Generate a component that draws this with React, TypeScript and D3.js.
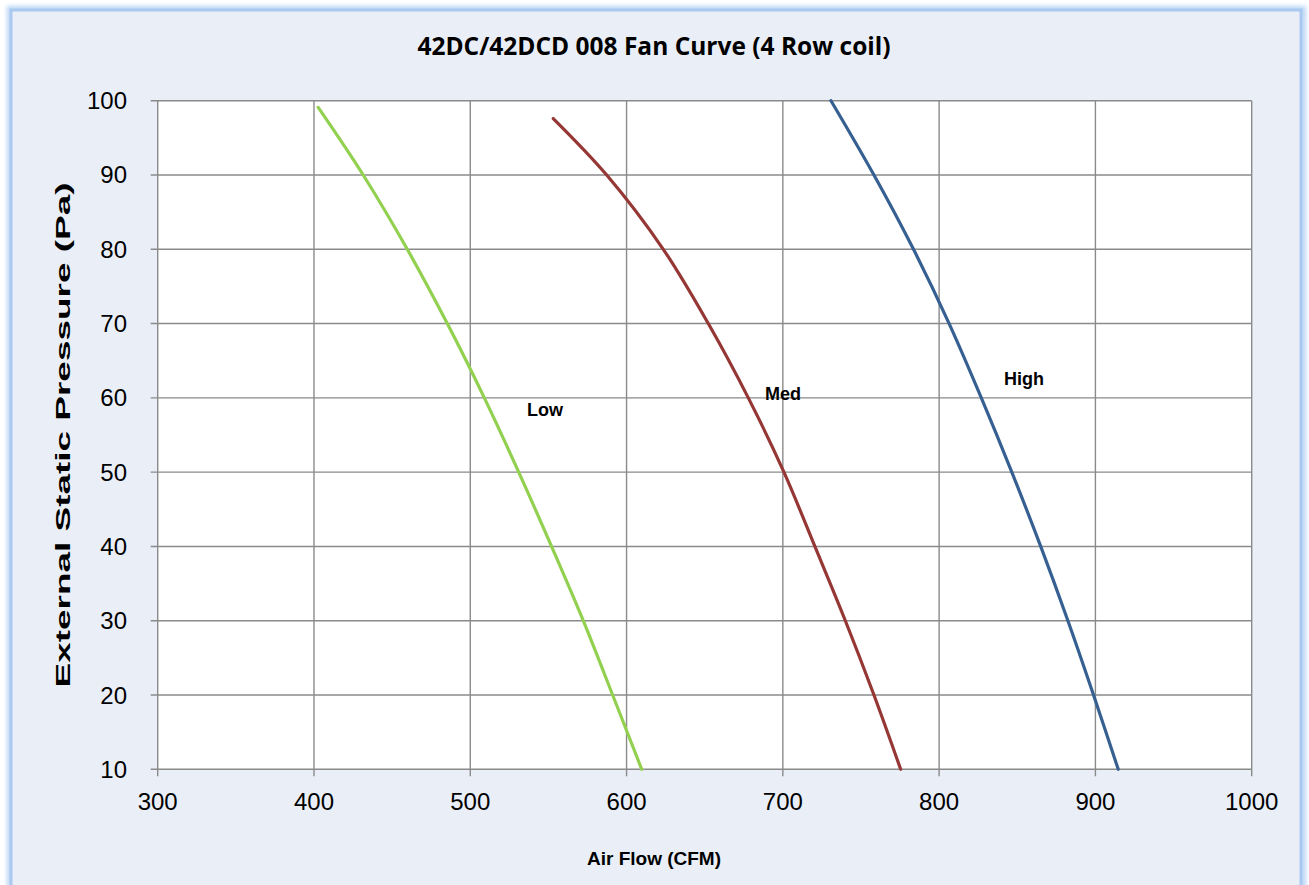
import React from "react";
import * as d3 from "d3";

const xTicks = [300, 400, 500, 600, 700, 800, 900, 1000];
const yTicks = [10, 20, 30, 40, 50, 60, 70, 80, 90, 100];

const lowPa = [99.1, 90, 80, 70, 60, 50, 40, 30, 20, 10];
const lowCfm = [402.7, 431.5, 459.7, 485.3, 509.0, 531.0, 552.0, 572.3, 591.1, 609.7];

const medPa = [97.6, 90, 80, 70, 60, 50, 40, 30, 20, 10];
const medCfm = [553.1, 587.3, 623.5, 652.3, 677.9, 700.7, 720.5, 740.0, 758.3, 775.4];

const highPa = [100, 90, 80, 70, 60, 50, 40, 30, 20, 10];
const highCfm = [730.8, 758.3, 783.6, 806.4, 827.0, 846.5, 865.0, 882.4, 898.8, 914.6];

const seriesNames = ["Low", "Med", "High"];
const seriesColors = ["#92D050", "#953735", "#376092"];
const labelPos = [
  { cfm: 536.3, pa: 57.5 },
  { cfm: 688.6, pa: 59.7 },
  { cfm: 841.5, pa: 61.7 },
];

export default function App() {
  const W = 1309, H = 885;
  const left = 157.7, right = 1251.7, top = 100.7, bottom = 769.3;
  const x = d3.scaleLinear().domain([300, 1000]).range([left, right]);
  const y = d3.scaleLinear().domain([10, 100]).range([bottom, top]);
  const line = d3
    .line<[number, number]>()
    .x((d) => x(d[0]))
    .y((d) => y(d[1]))
    .curve(d3.curveCatmullRom.alpha(0.5));
  const series = [
    d3.zip(lowCfm, lowPa) as [number, number][],
    d3.zip(medCfm, medPa) as [number, number][],
    d3.zip(highCfm, highPa) as [number, number][],
  ];
  const grid = "#8a8a8a";
  return (
    <div style={{ position: "absolute", left: 0, top: 0 }}>
      <svg width={W} height={H} style={{ display: "block", fontFamily: "Liberation Sans, Arial, sans-serif" }}>
        <defs>
          <filter id="sh" x="-5%" y="-5%" width="110%" height="110%">
            <feGaussianBlur stdDeviation="2" />
          </filter>
        </defs>
        <rect x={0} y={0} width={W} height={H} fill="#ffffff" />
        <rect x={10} y={9} width={1293} height={900} fill="none" stroke="#bcd6f5" strokeWidth={6} filter="url(#sh)" />
        <rect x={11} y={10} width={1290} height={900} fill="#EAEFF7" stroke="#a9c9f1" strokeWidth={3} />
        <text x={654} y={55} textAnchor="middle" fontFamily="Open Sans, sans-serif" fontWeight="bold" fontSize={24.5} fill="#000">
          42DC/42DCD 008 Fan Curve (4 Row coil)
        </text>
        <rect x={left} y={top} width={right - left} height={bottom - top} fill="#ffffff" />
        {xTicks.map((t) => (
          <line key={"gx" + t} x1={x(t)} x2={x(t)} y1={top} y2={bottom + 7} stroke={grid} strokeWidth={1.4} />
        ))}
        {yTicks.map((t) => (
          <line key={"gy" + t} x1={left - 7} x2={right} y1={y(t)} y2={y(t)} stroke={grid} strokeWidth={1.4} />
        ))}
        {series.map((s, i) => (
          <path key={seriesNames[i]} d={line(s) || ""} fill="none" stroke={seriesColors[i]} strokeWidth={3.2} strokeLinecap="round" />
        ))}
        {seriesNames.map((n, i) => (
          <text key={"l" + n} x={x(labelPos[i].cfm)} y={y(labelPos[i].pa)} fontWeight="bold" fontSize={18} fill="#000">
            {n}
          </text>
        ))}
        {yTicks.map((t) => (
          <text key={"ty" + t} x={127} y={y(t) + 8.5} textAnchor="end" fontSize={24} fill="#000">
            {t}
          </text>
        ))}
        {xTicks.map((t) => (
          <text key={"tx" + t} x={x(t)} y={810} textAnchor="middle" fontSize={24} fill="#000">
            {t}
          </text>
        ))}
        <text x={654} y={865} textAnchor="middle" fontWeight="bold" fontSize={19} fill="#000">
          Air Flow (CFM)
        </text>
        <text
          transform={`translate(70,435) rotate(-90)`}
          textAnchor="middle"
          fontWeight="bold"
          fontSize={21}
          textLength={505}
          lengthAdjust="spacingAndGlyphs"
          fill="#000"
        >
          External Static Pressure (Pa)
        </text>
      </svg>
    </div>
  );
}
